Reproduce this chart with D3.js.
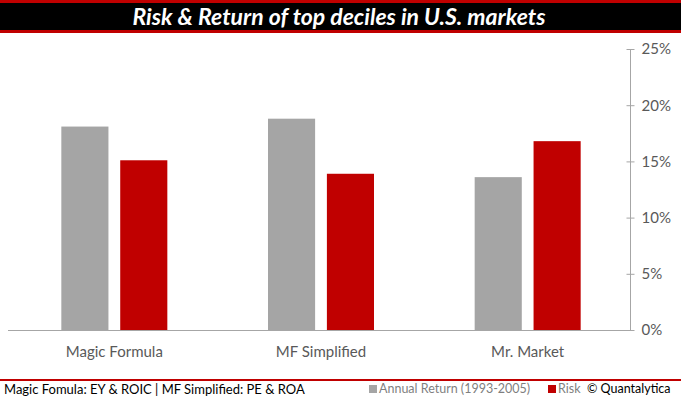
<!DOCTYPE html>
<html>
<head>
<meta charset="utf-8">
<script src="https://cdn.jsdelivr.net/npm/d3@7"></script>
<style>
  body { margin: 0; background: #fff; }
  svg { display: block; }
  .rotulo { font-family: Lato, "Liberation Sans", sans-serif; fill: #595959; }
</style>
</head>
<body>
<div id="grafico"></div>
<script>
// Dados
const categorias = ["Magic Formula", "MF Simplified", "Mr. Market"];
const retornoAnual = [18.1, 18.8, 13.6];
const risco = [15.1, 13.9, 16.8];
const series = ["Annual Return (1993-2005)", "Risk"];
const ticksY = [0, 5, 10, 15, 20, 25];

function criarGrafico() {
    const largura = 681;
    const altura = 399;
    const cores = ["#a5a5a5", "#c00000"];

    const svg = d3.select("#grafico")
        .append("svg")
        .attr("width", largura)
        .attr("height", altura);

    // Faixa do título
    svg.append("rect").attr("x", 0).attr("y", 0).attr("width", largura).attr("height", 33).attr("fill", "#c00000");
    svg.append("rect").attr("x", 0).attr("y", 3).attr("width", largura).attr("height", 27).attr("fill", "#000");
    svg.append("text")
        .attr("x", 339)
        .attr("y", 17)
        .attr("dy", "0.35em")
        .attr("text-anchor", "middle")
        .attr("fill", "#fff")
        .style("font-family", "Lato, 'Open Sans', sans-serif")
        .style("font-weight", "bold")
        .style("font-style", "italic")
        .style("font-size", "23px")
        .text("Risk & Return of top deciles in U.S. markets");

    // Escalas
    const x = d3.scaleBand()
        .domain(categorias)
        .range([11, 631]);

    const y = d3.scaleLinear()
        .domain([0, 25])
        .range([330, 49]);

    const xs = d3.scaleBand()
        .domain(series)
        .range([x.bandwidth() / 2 - 53, x.bandwidth() / 2 + 53])
        .paddingInner(0.2)
        .paddingOuter(0);

    // Barras
    const dados = categorias.map((c, i) => ({ categoria: c, valores: [retornoAnual[i], risco[i]] }));
    const grupos = svg.selectAll(".grupo")
        .data(dados)
        .enter()
        .append("g")
        .attr("transform", d => `translate(${x(d.categoria)},0)`);

    grupos.selectAll("rect")
        .data(d => d.valores.map((v, j) => ({ serie: series[j], valor: v, j })))
        .enter()
        .append("rect")
        .attr("x", d => xs(d.serie))
        .attr("width", xs.bandwidth())
        .attr("y", d => y(d.valor))
        .attr("height", d => y(0) - y(d.valor))
        .attr("fill", d => cores[d.j]);

    // Eixo X (linha base)
    svg.append("line")
        .attr("x1", 8).attr("x2", 630)
        .attr("y1", y(0) + 0.5).attr("y2", y(0) + 0.5)
        .attr("stroke", "#a6a6a6");

    grupos.append("text")
        .attr("class", "rotulo")
        .attr("x", x.bandwidth() / 2)
        .attr("y", 352)
        .attr("dy", "0.35em")
        .attr("text-anchor", "middle")
        .style("font-size", "15px")
        .text(d => d.categoria);

    // Eixo Y à direita
    const eixoY = svg.append("g")
        .attr("transform", "translate(630.5,0)")
        .call(d3.axisRight(y).tickValues(ticksY).tickSize(4).tickFormat(d => d + "%"));
    eixoY.select(".domain").attr("stroke", "#a6a6a6").attr("d", `M0,${y(25)}V${y(0)}`);
    eixoY.selectAll(".tick line").attr("stroke", "#a6a6a6").attr("x1", -4).attr("x2", 4);
    eixoY.selectAll(".tick text")
        .attr("x", 11)
        .attr("class", "rotulo")
        .style("font-size", "15px");

    // Rodapé
    svg.append("line")
        .attr("x1", 0).attr("x2", largura)
        .attr("y1", 380).attr("y2", 380)
        .attr("stroke", "#c00000").attr("stroke-width", 2);

    const rodape = svg.append("g")
        .style("font-family", "Lato, 'Liberation Sans', sans-serif")
        .style("font-size", "13px");

    rodape.append("text")
        .attr("x", 4).attr("y", 389).attr("dy", "0.35em")
        .attr("fill", "#000")
        .text("Magic Fomula: EY & ROIC | MF Simplified: PE & ROA");

    const legenda = [
        { x: 369, texto: series[0], cor: cores[0] },
        { x: 548, texto: series[1], cor: cores[1] }
    ];
    legenda.forEach(l => {
        rodape.append("rect").attr("x", l.x).attr("y", 385).attr("width", 8).attr("height", 8).attr("fill", l.cor);
        rodape.append("text").attr("x", l.x + 10).attr("y", 389).attr("dy", "0.35em")
            .attr("fill", "#7f7f7f").style("font-size", "12.5px").text(l.texto);
    });
    rodape.append("text")
        .attr("x", 587).attr("y", 389).attr("dy", "0.35em")
        .attr("fill", "#000")
        .style("font-size", "12.5px")
        .text("© Quantalytica");
}

criarGrafico();
</script>
</body>
</html>
